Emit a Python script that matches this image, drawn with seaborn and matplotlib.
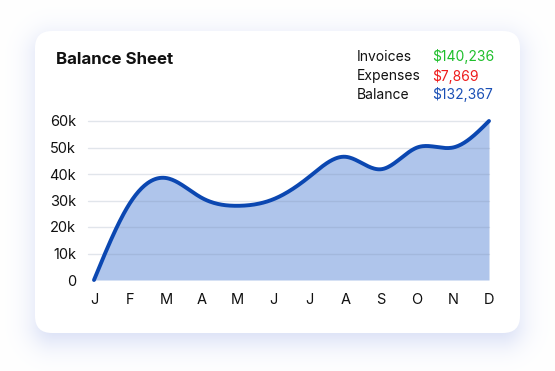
import numpy as np
import pandas as pd
import matplotlib
matplotlib.use("Agg")
import matplotlib.pyplot as plt
from matplotlib.patches import FancyBboxPatch
import seaborn as sns

months = ["J", "F", "M", "A", "M", "J", "J", "A", "S", "O", "N", "D"]
balance = [0, 29000, 38500, 31000, 28000, 30500, 39000, 46500, 41800, 50000, 50000, 60000]
ytick_vals = [0, 10000, 20000, 30000, 40000, 50000, 60000]
ytick_labels = ["0", "10k", "20k", "30k", "40k", "50k", "60k"]
summary_labels = ["Invoices", "Expenses", "Balance"]
summary_values = ["$140,236", "$7,869", "$132,367"]
summary_colors = ["#1fbf2c", "#ee1c1c", "#1a4fb5"]

sns.set_theme(style="white")
plt.rcParams["font.family"] = ["Inter", "DejaVu Sans"]

W, H = 555, 371
fig = plt.figure(figsize=(W / 100, H / 100), dpi=100)
fig.patch.set_facecolor("white")

def fx(px):
    return px / W

def fy(py):
    return 1 - py / H

def rbox(x0, y0, x1, y1, r, **kw):
    return FancyBboxPatch((fx(x0), fy(y1)), fx(x1 - x0), (y1 - y0) / H,
                          boxstyle=f"round,pad=0,rounding_size={r / W}",
                          transform=fig.transFigure, mutation_aspect=W / H, **kw)

# soft bluish card shadow (background image)
cx0, cy0, cx1, cy1, rad = 35, 31, 520, 333, 17
yy_, xx_ = np.mgrid[0:H, 0:W] + 0.5
sx0, sy0, sx1, sy1 = cx0 + 2, cy0 + 8, cx1 - 2, cy1 + 8
ccx, ccy = (sx0 + sx1) / 2, (sy0 + sy1) / 2
hx, hy = (sx1 - sx0) / 2 - rad, (sy1 - sy0) / 2 - rad
qx = np.abs(xx_ - ccx) - hx
qy = np.abs(yy_ - ccy) - hy
dist = np.hypot(np.maximum(qx, 0), np.maximum(qy, 0)) + np.minimum(np.maximum(qx, qy), 0) - rad
inten = np.clip(0.5 * (1 - np.tanh(dist / 17.0)), 0, 1) * 0.30
shadow_rgb = np.array([0.42, 0.52, 0.86])
img = 1 - inten[..., None] * (1 - shadow_rgb[None, None, :])
bg = fig.add_axes([0, 0, 1, 1], zorder=0)
bg.imshow(img, extent=[0, W, H, 0], aspect="auto", interpolation="bilinear")
bg.set_xlim(0, W); bg.set_ylim(H, 0)
bg.axis("off")

fig.patches.append(rbox(cx0, cy0, cx1, cy1, rad, facecolor="white", edgecolor="none", zorder=1))

ax = fig.add_axes([fx(94), fy(280), fx(489 - 94), (280 - 121) / H])
ax.set_facecolor("none")
ax.set_zorder(2)

# smooth curve (natural cubic spline through the monthly points)
x = np.arange(len(balance), dtype=float)
y = np.array(balance, dtype=float)
n = len(x)
h = np.diff(x)
A = np.zeros((n, n)); rhs = np.zeros(n)
A[0, 0] = 1; A[-1, -1] = 1
for i in range(1, n - 1):
    A[i, i - 1] = h[i - 1]; A[i, i] = 2 * (h[i - 1] + h[i]); A[i, i + 1] = h[i]
    rhs[i] = 6 * ((y[i + 1] - y[i]) / h[i] - (y[i] - y[i - 1]) / h[i - 1])
M = np.linalg.solve(A, rhs)
xs = np.linspace(0, n - 1, 400)
idx = np.clip(np.searchsorted(x, xs) - 1, 0, n - 2)
t0 = x[idx]; t1 = x[idx + 1]; hh = t1 - t0
ys = (M[idx] * (t1 - xs) ** 3 / (6 * hh) + M[idx + 1] * (xs - t0) ** 3 / (6 * hh)
      + (y[idx] / hh - M[idx] * hh / 6) * (t1 - xs) + (y[idx + 1] / hh - M[idx + 1] * hh / 6) * (xs - t0))
df = pd.DataFrame({"x": xs, "y": ys})

ax.fill_between(df["x"], df["y"], 0, color="#afc5eb", zorder=1, linewidth=0)
for v in ytick_vals[1:]:
    ax.plot([-0.17, n - 1], [v, v], color="#7a8aa8", alpha=0.22, lw=1, zorder=2, clip_on=False)
sns.lineplot(data=df, x="x", y="y", ax=ax, color="#0b47b1", linewidth=2.8, zorder=3)
for l in ax.lines[-1:]:
    l.set_clip_on(False)
    l.set_solid_capstyle("round")

ax.set_xlim(0, n - 1)
ax.set_ylim(0, 60000)
ax.set_xticks(x)
ax.set_xticklabels(months)
ax.set_yticks(ytick_vals)
ax.set_yticklabels(ytick_labels)
ax.set_xlabel(""); ax.set_ylabel("")
ax.tick_params(axis="x", length=0, pad=9, labelsize=10.5, colors="#111111")
ax.tick_params(axis="y", length=0, pad=13, labelsize=10.5, colors="#111111")
for sp in ax.spines.values():
    sp.set_visible(False)
ax.grid(False)

fig.text(fx(56), fy(60), "Balance Sheet", fontsize=12.2, fontweight="bold", color="#111111",
         ha="left", va="center", zorder=5)
for i, (lab, val, col) in enumerate(zip(summary_labels, summary_values, summary_colors)):
    yy = fy(57 + i * 19)
    fig.text(fx(357), yy, lab, fontsize=10, color="#111111", ha="left", va="center", zorder=5)
    fig.text(fx(432), yy, val, fontsize=10, color=col, ha="left", va="center", zorder=5)

fig.savefig("out.png", dpi=100, facecolor="white")
